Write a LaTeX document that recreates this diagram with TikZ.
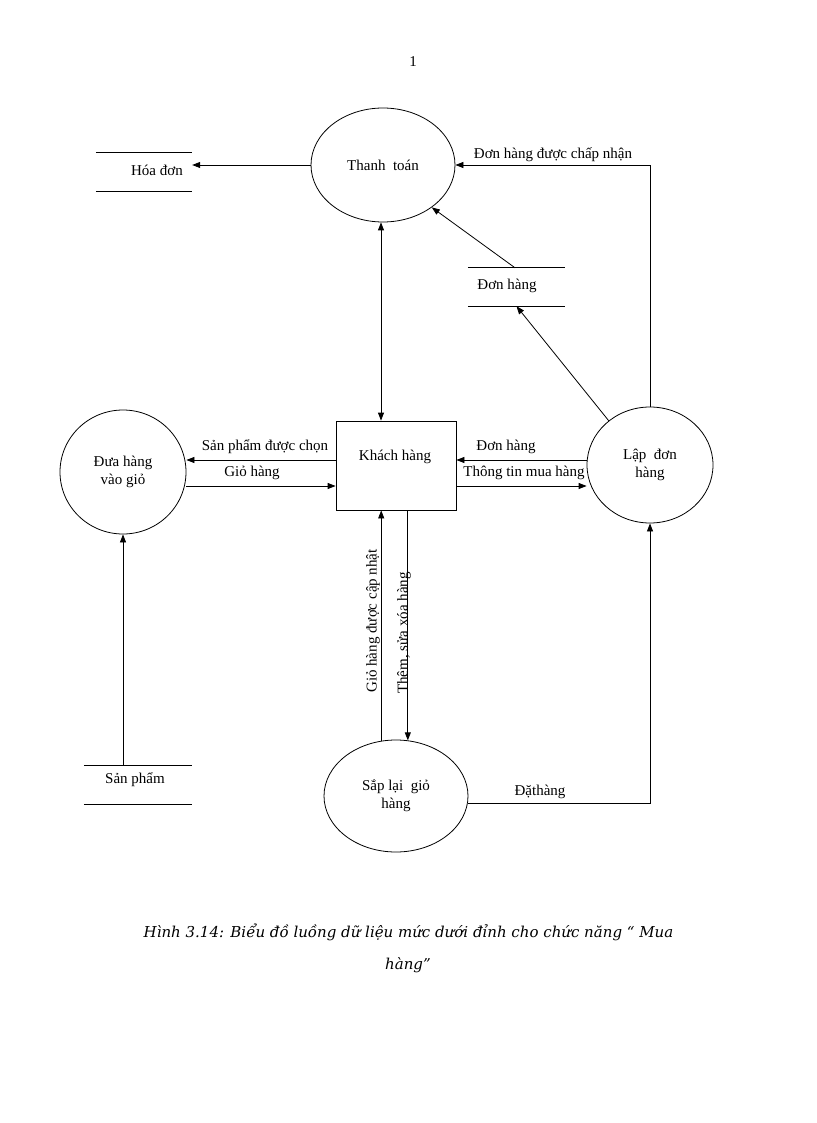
\documentclass[tikz,border=0pt]{standalone}
\usepackage{fontspec}
\setmainfont{Liberation Serif}
\newfontfamily\capfont{DejaVu Serif}
\usetikzlibrary{arrows.meta,shapes.geometric,calc}
\begin{document}
\begin{tikzpicture}[x=1pt,y=-1pt,
  every node/.style={font=\fontsize{15}{18}\selectfont},
  proc/.style={draw,ellipse,line width=0.8pt,inner sep=0pt,align=center},
  entity/.style={draw,rectangle,line width=0.8pt,inner sep=0pt},
  store/.style={inner sep=0pt,minimum height=38pt},
  lbl/.style={inner sep=1pt},
  captext/.style={font=\capfont\itshape\fontsize{15}{18}\selectfont},
  flow/.style={line width=0.8pt,-{Triangle[length=8pt,width=6pt]}},
  biflow/.style={line width=0.8pt,{Triangle[length=8pt,width=6pt]}-{Triangle[length=8pt,width=6pt]}},
  plain/.style={line width=0.8pt}]
\useasboundingbox (0,0) rectangle (816,1123);
\fill[white] (0,0) rectangle (816,1123);

\node (pagenum) at (413,62) {1};

% processes
\node[proc,minimum width=144pt,minimum height=114pt] (thanhtoan) at (383,165) {Thanh\ \ toán};
\node[proc,minimum width=126pt,minimum height=124pt] (dua) at (123,472) {Đưa hàng\\vào giỏ};
\node[proc,minimum width=126pt,minimum height=116pt] (lap) at (650,465) {Lập\ \ đơn\\hàng};
\node[proc,minimum width=144pt,minimum height=112pt] (sap) at (396,796) {Sắp lại\ \ giỏ\\hàng};

% entity
\node[entity,minimum width=120pt,minimum height=89pt] (kh) at (396,465.5) {};
\node (khtext) at (395,457) {Khách hàng};

% stores
\node[store,minimum width=96pt] (hoadon) at (144,172) {};
\draw[plain] (hoadon.north west) -- (hoadon.north east) (hoadon.south west) -- (hoadon.south east);
\node (hoadontext) at (157,170) {Hóa đơn};

\node[store,minimum width=97pt] (donhang) at (516.5,287) {};
\draw[plain] (donhang.north west) -- (donhang.north east) (donhang.south west) -- (donhang.south east);
\node (donhangtext) at (507,286) {Đơn hàng};

\node[store,minimum width=108pt] (sanpham) at (138,785) {};
\draw[plain] (sanpham.north west) -- (sanpham.north east) (sanpham.south west) -- (sanpham.south east);
\node (sanphamtext) at (135,780) {Sản phẩm};

% flows
\draw[flow] (thanhtoan.west) -- (thanhtoan.west -| hoadon.east);
\draw[flow] (lap.north) |- (thanhtoan.east);
\node[lbl] (l1) at (553,155) {Đơn hàng được chấp nhận};
\draw[flow] ([xshift=-1.5pt]donhang.north) -- (thanhtoan.-41);
\draw[flow] (lap.133) -- (donhang.south);
\draw[biflow] ([xshift=-2pt]thanhtoan.south) -- ([xshift=-2pt]thanhtoan.south |- kh.north);

\draw[flow] ([yshift=5.5pt]kh.west) -- ([yshift=5.5pt]kh.west -| dua.east);
\node[lbl] (l2) at (265,447) {Sản phẩm được chọn};
\draw[flow] ([yshift=-20.5pt]kh.west -| dua.east) -- ([yshift=-20.5pt]kh.west);
\node[lbl] (l3) at (252,473) {Giỏ hàng};

\draw[flow] ([yshift=5.5pt]kh.east -| lap.west) -- ([yshift=5.5pt]kh.east);
\node[lbl] (l4) at (506,447) {Đơn hàng};
\draw[flow] ([yshift=-20.5pt]kh.east) -- ([yshift=-20.5pt]kh.east -| lap.west);
\node[lbl] (l5) at (524,473) {Thông tin mua hàng};

\draw[flow] (sanpham.north -| dua.south) -- (dua.south);

\draw[flow] (sap.105) -- (sap.105 |- kh.south);
\node[lbl,rotate=90] (l6) at (373,621) {Giỏ hàng được cập nhật};
\draw[flow] (sap.78 |- kh.south) -- (sap.78);
\node[lbl,rotate=90] (l7) at (404,633) {Thêm, sửa xóa hàng};

\draw[flow] (sap.-6) -| (lap.south);
\node[lbl] (l8) at (540,792) {Đặthàng};

% caption
\node[captext] (cap1) at (408.5,932) {Hình 3.14: Biểu đồ luồng dữ liệu mức dưới đỉnh cho chức năng “ Mua};
\node[captext] (cap2) at (408,965) {hàng”};
\end{tikzpicture}
\end{document}
